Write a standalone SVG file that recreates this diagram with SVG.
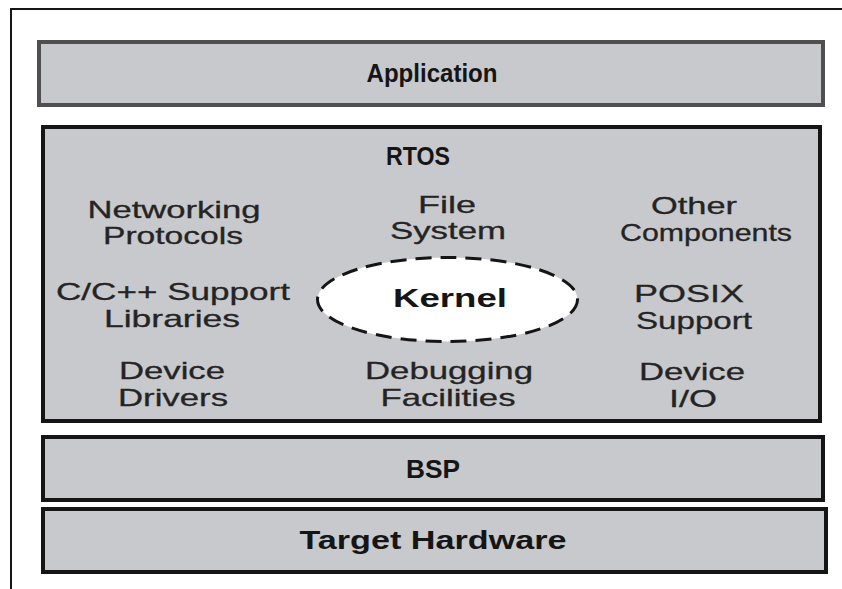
<svg xmlns="http://www.w3.org/2000/svg" width="842" height="589" viewBox="0 0 842 589">
  <style>
    .layer { fill: #c8c9cc; stroke: #151515; stroke-width: 4; }
    .app { stroke: #4f4f4f; }
    .title { font-family: "Liberation Sans", Arial, sans-serif; font-weight: bold; font-size: 25px; fill: #151515; text-anchor: middle; }
    .item { font-family: "Liberation Sans", Arial, sans-serif; font-size: 24px; fill: #242424; stroke: #242424; stroke-width: 0.3; text-anchor: middle; }
    .kernel { fill: #ffffff; stroke: #151515; stroke-width: 3; stroke-dasharray: 16 9; }
    .frame { stroke: #151515; stroke-width: 2; fill: none; }
  </style>

  <rect x="0" y="0" width="842" height="589" fill="#ffffff"/>

  <!-- page frame (left and top rules) -->
  <path class="frame" d="M11 589 V9 H842"/>

  <g id="application">
    <rect class="layer app" x="39" y="42" width="784" height="63"/>
    <text class="title" x="432" y="82" textLength="131" lengthAdjust="spacingAndGlyphs">Application</text>
  </g>

  <g id="rtos">
    <rect class="layer" x="43" y="127" width="777" height="294"/>
    <text class="title" x="418" y="165" textLength="64" lengthAdjust="spacingAndGlyphs">RTOS</text>
  </g>

  <g id="networking">
    <text class="item" x="174" y="218" textLength="173" lengthAdjust="spacingAndGlyphs">Networking</text>
    <text class="item" x="173" y="244" textLength="140" lengthAdjust="spacingAndGlyphs">Protocols</text>
  </g>

  <g id="file-system">
    <text class="item" x="447" y="213" textLength="58" lengthAdjust="spacingAndGlyphs">File</text>
    <text class="item" x="448" y="239" textLength="116" lengthAdjust="spacingAndGlyphs">System</text>
  </g>

  <g id="other-components">
    <text class="item" x="694" y="214" textLength="86" lengthAdjust="spacingAndGlyphs">Other</text>
    <text class="item" x="706" y="241" textLength="172" lengthAdjust="spacingAndGlyphs">Components</text>
  </g>

  <g id="cpp-support">
    <text class="item" x="173" y="300" textLength="234" lengthAdjust="spacingAndGlyphs">C/C++ Support</text>
    <text class="item" x="172" y="327" textLength="136" lengthAdjust="spacingAndGlyphs">Libraries</text>
  </g>

  <g id="kernel">
    <ellipse class="kernel" cx="447.5" cy="299.5" rx="130" ry="42"/>
    <text class="title" x="450" y="307" textLength="114" lengthAdjust="spacingAndGlyphs">Kernel</text>
  </g>

  <g id="posix">
    <text class="item" x="689" y="302" textLength="110" lengthAdjust="spacingAndGlyphs">POSIX</text>
    <text class="item" x="694" y="329" textLength="116" lengthAdjust="spacingAndGlyphs">Support</text>
  </g>

  <g id="device-drivers">
    <text class="item" x="172" y="379" textLength="106" lengthAdjust="spacingAndGlyphs">Device</text>
    <text class="item" x="173" y="406" textLength="110" lengthAdjust="spacingAndGlyphs">Drivers</text>
  </g>

  <g id="debugging">
    <text class="item" x="449" y="379" textLength="168" lengthAdjust="spacingAndGlyphs">Debugging</text>
    <text class="item" x="448" y="406" textLength="135" lengthAdjust="spacingAndGlyphs">Facilities</text>
  </g>

  <g id="device-io">
    <text class="item" x="692" y="380" textLength="106" lengthAdjust="spacingAndGlyphs">Device</text>
    <text class="item" x="693" y="407" textLength="48" lengthAdjust="spacingAndGlyphs">I/O</text>
  </g>

  <g id="bsp">
    <rect class="layer" x="43" y="437" width="780" height="63"/>
    <text class="title" x="433" y="478" textLength="54" lengthAdjust="spacingAndGlyphs">BSP</text>
  </g>

  <g id="target-hardware">
    <rect class="layer" x="43" y="509" width="783" height="63"/>
    <text class="title" x="433" y="549" textLength="267" lengthAdjust="spacingAndGlyphs">Target Hardware</text>
  </g>

  <!-- no connectors in this layered stack -->
  <g id="connectors"/>
</svg>
